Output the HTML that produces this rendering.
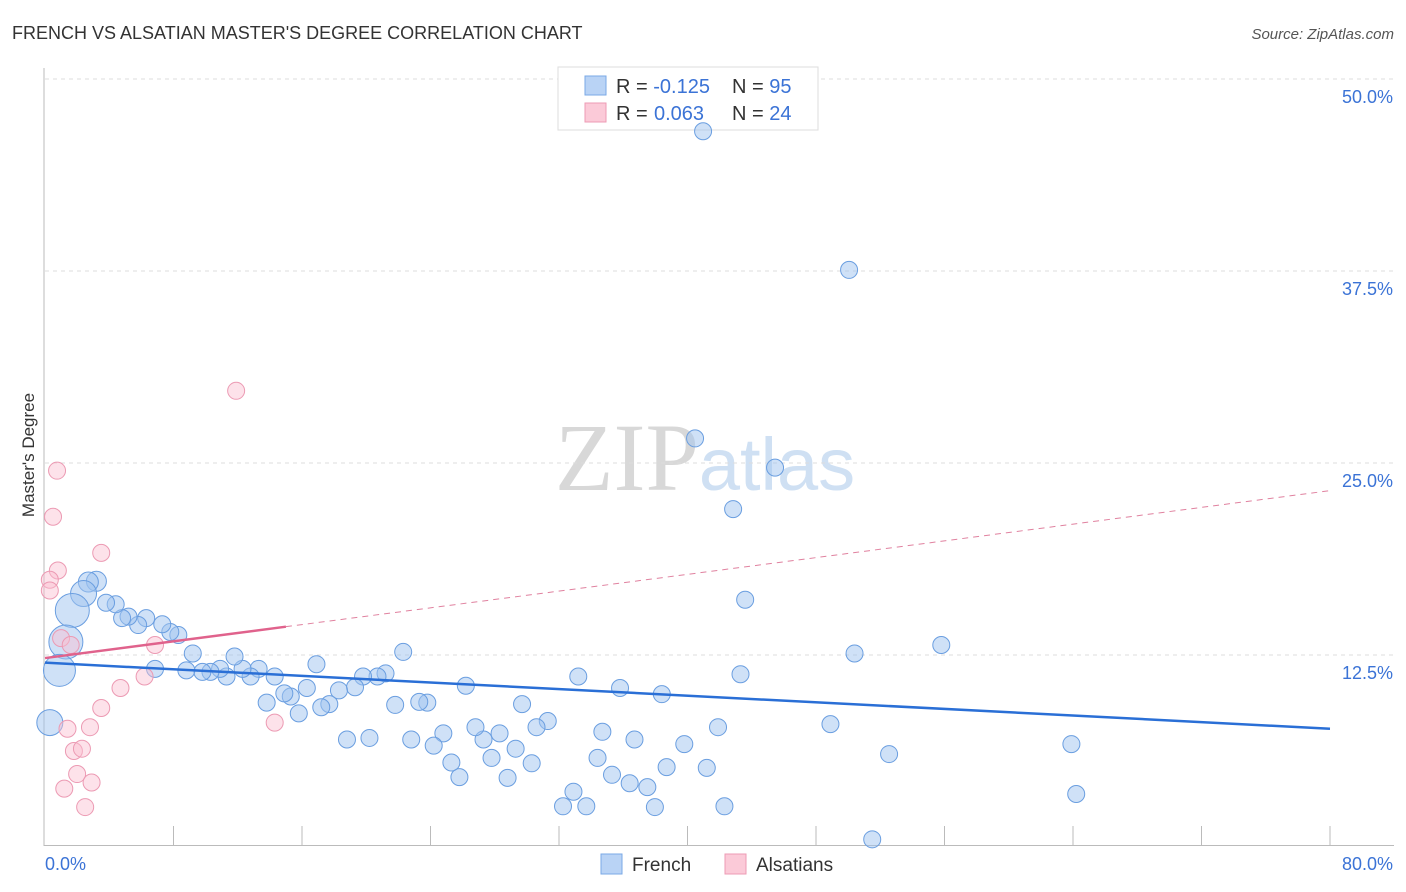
<!DOCTYPE html>
<html><head><meta charset="utf-8"><style>
body{margin:0;background:#fff;font-family:"Liberation Sans",sans-serif;}
#wrap{position:relative;width:1406px;height:892px;overflow:hidden}
</style></head><body><div id="wrap">
<svg id="svg" width="1406" height="892" xmlns="http://www.w3.org/2000/svg">
<text x="12" y="39" font-size="18" fill="#333">FRENCH VS ALSATIAN MASTER'S DEGREE CORRELATION CHART</text>
<text x="1394" y="39" font-size="15" fill="#555" font-style="italic" text-anchor="end">Source: ZipAtlas.com</text>
<text x="705" y="490" font-size="96" fill="#ddd" text-anchor="middle" font-family="Liberation Serif,serif"><tspan fill="#d8d8d8">ZIP</tspan><tspan fill="#cfe0f3" font-family="Liberation Sans,sans-serif" font-size="74">atlas</tspan></text>
<text transform="translate(34,455) rotate(-90)" font-size="17" fill="#333" text-anchor="middle">Master's Degree</text>
<g id="grid"></g><g id="axes"></g>
<g>
<rect x="558" y="67" width="260" height="63" fill="#fff" stroke="#ddd"/>
<rect x="585" y="76" width="21" height="19" fill="#b9d3f5" stroke="#7aa8e6"/>
<rect x="585" y="103" width="21" height="19" fill="#fbcad8" stroke="#ee9bb4"/>
<text x="616" y="93" font-size="20" fill="#333">R = <tspan fill="#3b73d6">-0.125</tspan><tspan x="732">N = </tspan><tspan fill="#3b73d6">95</tspan></text>
<text x="616" y="120" font-size="20" fill="#333">R = <tspan fill="#3b73d6" x="654">0.063</tspan><tspan x="732">N = </tspan><tspan fill="#3b73d6">24</tspan></text>
</g>
<g id="pts"></g><g id="lines"></g>
<g>
<rect x="601" y="854" width="21" height="20" fill="#b9d3f5" stroke="#7aa8e6"/>
<text x="632" y="871" font-size="19" fill="#333">French</text>
<rect x="725" y="854" width="21" height="20" fill="#fbcad8" stroke="#ee9bb4"/>
<text x="756" y="871" font-size="19" fill="#333">Alsatians</text>
</g>
</svg>
<script>
const yTicks=[12.5,25,37.5,50];
const yTickLabels=["12.5%","25.0%","37.5%","50.0%"];
const xTickLabels=["0.0%","80.0%"];
const frenchX=[40.97,50.06,40.47,45.45,42.84,43.59,50.4,55.8,63.9,64.2,51.5,52.55,48.9,41.9,43.3,42.3,41.2,39.8,38.4,38.7,37.5,37.97,36.4,36.7,35.8,35.3,34.7,34.4,33.2,32.9,32.25,33.7,31.3,30.6,30.3,29.7,29.3,28.8,28.3,27.8,27.3,26.8,26.2,25.8,25.3,24.8,24.2,23.8,23.3,22.8,22.3,21.8,21.2,20.7,20.2,19.8,19.3,18.8,18.3,17.7,17.2,16.9,16.3,15.8,15.3,14.9,13.8,14.3,13.3,12.8,12.3,11.8,11.3,10.9,10.3,9.8,9.2,8.8,6.85,8.3,7.8,7.3,6.3,5.8,5.2,4.8,4.4,3.8,3.2,2.7,2.4,1.7,1.3,0.9,0.3];
const frenchY=[46.6,37.57,26.6,24.7,22.0,16.1,12.6,13.15,6.7,3.45,0.5,6.05,8.0,7.8,11.25,2.65,5.15,6.7,9.95,5.2,3.9,2.6,4.15,7.0,10.35,4.7,7.5,5.8,11.1,3.6,2.65,2.65,8.2,7.8,5.45,9.3,6.4,4.5,7.4,5.8,7.0,7.8,10.5,4.55,5.5,7.4,6.6,9.4,9.45,7.0,12.7,9.25,11.3,11.1,7.1,11.1,10.4,7.0,10.2,9.3,9.1,11.9,10.35,8.7,9.8,10.0,9.4,11.1,11.6,11.1,11.6,12.4,11.1,11.6,11.4,11.4,12.6,11.5,11.6,13.8,14.0,14.5,14.9,14.45,15.0,14.9,15.8,15.9,17.3,17.25,16.5,15.4,13.35,11.5,8.1];
const frenchR=[8.5,8.5,8.5,8.5,8.5,8.5,8.5,8.5,8.5,8.5,8.5,8.5,8.5,8.5,8.5,8.5,8.5,8.5,8.5,8.5,8.5,8.5,8.5,8.5,8.5,8.5,8.5,8.5,8.5,8.5,8.5,8.5,8.5,8.5,8.5,8.5,8.5,8.5,8.5,8.5,8.5,8.5,8.5,8.5,8.5,8.5,8.5,8.5,8.5,8.5,8.5,8.5,8.5,8.5,8.5,8.5,8.5,8.5,8.5,8.5,8.5,8.5,8.5,8.5,8.5,8.5,8.5,8.5,8.5,8.5,8.5,8.5,8.5,8.5,8.5,8.5,8.5,8.5,8.5,8.5,8.5,8.5,8.5,8.5,8.5,8.5,8.5,8.5,10,10,13,17,17,16,13];
const alsX=[11.9,0.75,0.5,3.5,0.8,0.3,0.3,1.0,1.6,6.85,6.2,4.7,3.5,2.8,1.4,1.8,2.3,2.0,2.9,1.2,2.5,14.3];
const alsY=[29.7,24.5,21.5,19.15,18.0,17.4,16.7,13.6,13.15,13.15,11.1,10.35,9.05,7.8,7.7,6.25,6.4,4.75,4.2,3.8,2.6,8.1];
const frenchTrend=[12.0,7.7];
const alsTrend=[12.3,23.2];
const NS='http://www.w3.org/2000/svg';
const X=v=>45+v*(1285/80), Y=v=>847-v*15.36;
function mk(t,a,p){const e=document.createElementNS(NS,t);for(const k in a)e.setAttribute(k,a[k]);document.getElementById(p).appendChild(e);return e;}
yTicks.forEach((t,i)=>{
 const g=mk('line',{x1:45,x2:1394,y1:Y(t),y2:Y(t),stroke:'#ddd','stroke-dasharray':'4,4'},'grid');
 
 
 const l=mk('text',{x:1393,y:Y(t)+24,'font-size':18,fill:'#3b73d6','text-anchor':'end'},'grid');l.textContent=yTickLabels[i];
 
 
});
mk('line',{x1:44,x2:44,y1:68,y2:846,stroke:'#bbb'},'axes');
mk('line',{x1:44,x2:1394,y1:845.5,y2:845.5,stroke:'#bbb'},'axes');
for(let i=1;i<=10;i++){mk('line',{x1:X(i*8),x2:X(i*8),y1:826,y2:845,stroke:'#bbb'},'axes');}
const xl=mk('text',{x:45,y:870,'font-size':18,fill:'#3b73d6'},'axes');xl.textContent=xTickLabels[0];


const xr=mk('text',{x:1393,y:870,'font-size':18,fill:'#3b73d6','text-anchor':'end'},'axes');xr.textContent=xTickLabels[1];


frenchX.forEach((v,i)=>{const c=mk('circle',{cx:X(v),cy:Y(frenchY[i]),r:frenchR[i],fill:'rgba(160,196,240,0.5)',stroke:'#6a9ee0','stroke-width':1},'pts');
 
 });
alsX.forEach((v,i)=>{const c=mk('circle',{cx:X(v),cy:Y(alsY[i]),r:8.5,fill:'rgba(250,190,208,0.45)',stroke:'#ec9ab3','stroke-width':1},'pts');
 
 });
const ft=mk('line',{x1:X(0),y1:Y(frenchTrend[0]),x2:X(80),y2:Y(frenchTrend[1]),stroke:'#2a6fd6','stroke-width':2.5},'lines');


const at=v=>alsTrend[0]+(alsTrend[1]-alsTrend[0])*v/80;
const a1=mk('line',{x1:X(0),y1:Y(at(0)),x2:X(15),y2:Y(at(15)),stroke:'#e0628c','stroke-width':2.5},'lines');


const a2=mk('line',{x1:X(15),y1:Y(at(15)),x2:X(80),y2:Y(at(80)),stroke:'#e0819f','stroke-width':1,'stroke-dasharray':'6,5'},'lines');


</script>
</div></body></html>
